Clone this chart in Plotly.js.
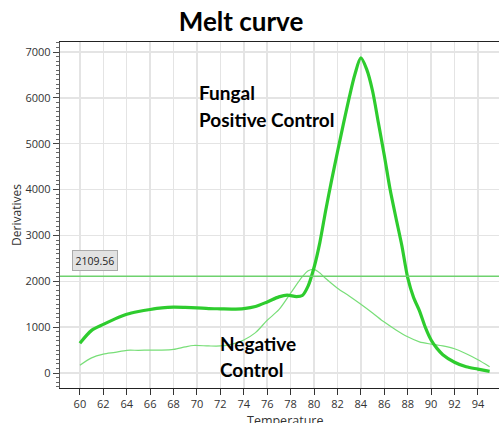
<!DOCTYPE html>
<html>
<head>
<meta charset="utf-8">
<script src="https://cdn.plot.ly/plotly-3.0.1.min.js"></script>
<style>html,body{margin:0;padding:0;background:#fff;}#chart{width:499px;height:423px;}</style>
</head>
<body>
<div id="chart"></div>
<script>
const posTemp = [60,61,62,63,64,65,66,67,68,69,70,71,72,73,74,75,76,77,77.7,78.5,79,79.5,80,80.5,81,81.5,82,82.5,83,83.5,84,84.5,85,85.5,86,86.5,87,87.5,88,88.5,89,89.5,90,90.5,91,92,93,94,95];
const posDeriv = [650,930,1060,1180,1280,1340,1385,1420,1435,1430,1420,1405,1400,1395,1405,1450,1550,1660,1700,1665,1690,1900,2300,2850,3550,4200,4820,5420,6000,6520,6870,6620,6150,5450,4750,4000,3380,2780,2080,1650,1360,1000,720,537,400,235,135,85,35];
const negTemp = [60,61,62,63,64,65,66,67,68,69,69.7,71,72,73,74,75,76,77,78,79,79.5,80,80.5,81,82,83,84,85,86,87,88,89,90,91,92,93,94,95];
const negDeriv = [170,330,410,450,495,495,500,500,515,570,600,590,590,630,720,880,1150,1380,1740,2100,2230,2260,2180,2060,1850,1680,1500,1310,1110,940,790,680,630,590,530,420,290,137];
const threshold = 2109.56;
const thresholdLabel = "2109.56";
const xTickVals = [58,60,62,64,66,68,70,72,74,76,78,80,82,84,86,88,90,92,94,96];

const traces = [
  {x: negTemp, y: negDeriv, mode: 'lines', line: {color: 'rgb(120,222,120)', width: 1.2, shape: 'spline', smoothing: 0.8}, hoverinfo: 'skip'},
  {x: posTemp, y: posDeriv, mode: 'lines', line: {color: 'rgb(46,204,46)', width: 3.2, shape: 'spline', smoothing: 0.8}, hoverinfo: 'skip'},
  {x: [57, 97], y: [threshold, threshold], mode: 'lines', line: {color: 'rgb(110,210,110)', width: 1.5}, hoverinfo: 'skip'}
];

const layout = {
  width: 499, height: 423,
  margin: {l: 60, r: 0, t: 42, b: 35},
  paper_bgcolor: '#fff', plot_bgcolor: '#fff',
  showlegend: false,
  title: {text: '<b>Melt curve</b>', font: {family: 'Lato, Open Sans, sans-serif', size: 26, color: '#000'}, x: 0.483, xref: 'container', xanchor: 'center', y: 0.948, yref: 'container', yanchor: 'middle'},
  xaxis: {
    range: [58.3, 95.8], tickvals: xTickVals, ticktext: xTickVals.map(String),
    showgrid: true, gridcolor: '#e4e4e4', gridwidth: 1.5,
    showline: true, linecolor: '#222', linewidth: 1.2, mirror: true,
    ticks: 'outside', ticklen: 6, tickcolor: '#333', tickwidth: 1,
    tickfont: {family: 'Open Sans, sans-serif', size: 11, color: '#333'},
    zeroline: false
  },
  yaxis: {
    range: [-327, 7218], dtick: 1000, tick0: 0,
    showgrid: true, gridcolor: '#e4e4e4', gridwidth: 1.5,
    showline: true, linecolor: '#555', linewidth: 1.2,
    ticks: 'outside', ticklen: 6, tickcolor: '#444', tickwidth: 1,
    minor: {dtick: 100, ticks: 'outside', ticklen: 3, tickcolor: '#666', showgrid: false},
    tickfont: {family: 'Open Sans, sans-serif', size: 11, color: '#333'},
    zeroline: false,
    title: {text: 'Derivatives', font: {family: 'Open Sans, sans-serif', size: 12, color: '#333'}, standoff: 0}
  },
  annotations: [
    {x: 197, y: 92, xref: 'paper', yref: 'paper', text: '<b>Fungal</b>', showarrow: false, font: {family: 'Lato, Open Sans, sans-serif', size: 19, color: '#000'}, xanchor: 'left', yanchor: 'middle'},
    {x: 197, y: 119, xref: 'paper', yref: 'paper', text: '<b>Positive Control</b>', showarrow: false, font: {family: 'Lato, Open Sans, sans-serif', size: 19, color: '#000'}, xanchor: 'left', yanchor: 'middle'},
    {x: 218, y: 343, xref: 'paper', yref: 'paper', text: '<b>Negative</b>', showarrow: false, font: {family: 'Lato, Open Sans, sans-serif', size: 19, color: '#000'}, xanchor: 'left', yanchor: 'middle'},
    {x: 218, y: 369, xref: 'paper', yref: 'paper', text: '<b>Control</b>', showarrow: false, font: {family: 'Lato, Open Sans, sans-serif', size: 19, color: '#000'}, xanchor: 'left', yanchor: 'middle'},
    {x: 285, y: 420, xref: 'paper', yref: 'paper', text: 'Temperature', showarrow: false, font: {family: 'Open Sans, sans-serif', size: 12.5, color: '#333'}, xanchor: 'center', yanchor: 'middle'},
    {x: 59.3, y: threshold, xref: 'x', yref: 'y', text: thresholdLabel, showarrow: false, xanchor: 'left', yanchor: 'bottom', yshift: 5, font: {family: 'Open Sans, sans-serif', size: 10.5, color: '#222'}, bgcolor: '#e2e2e2', bordercolor: '#aaa', borderwidth: 1, borderpad: 2.5}
  ]
};

// convert pixel-positioned text annotations to paper coordinates
const plotW = 499 - 60, plotH = 423 - 42 - 35;
layout.annotations.forEach(a => {
  if (a.xref === 'paper') {
    a.x = (a.x - 60) / plotW;
    a.y = 1 - (a.y - 42) / plotH;
  }
});

Plotly.newPlot('chart', traces, layout, {staticPlot: true, displayModeBar: false});
</script>
</body>
</html>
